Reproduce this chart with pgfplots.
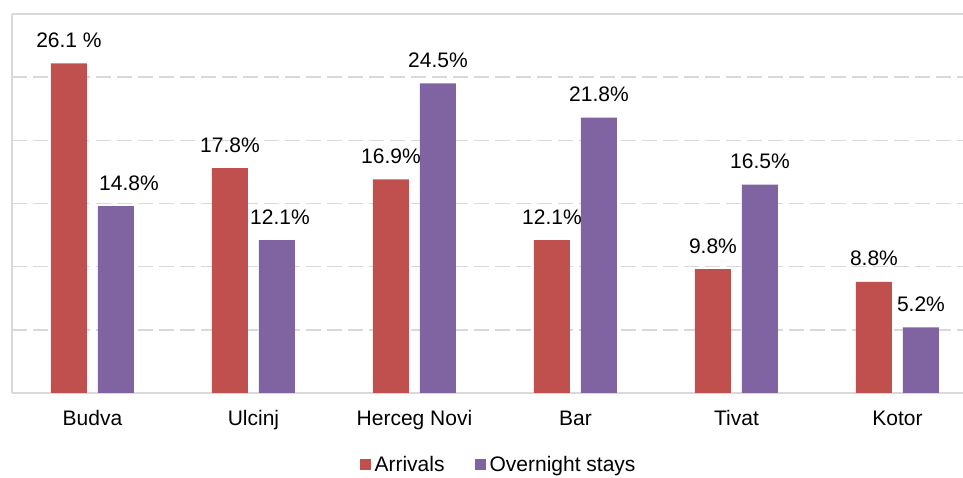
\documentclass[border=0pt]{standalone}
\usepackage{pgfplots}
\pgfplotsset{compat=1.18}
\usepackage{fontspec}
\setmainfont{Liberation Sans}
\definecolor{arr}{HTML}{C0504D}
\definecolor{ovn}{HTML}{8064A2}
\definecolor{gridg}{HTML}{D9D9D9}
\newcommand{\bigf}{\fontsize{21}{25}\selectfont}
\begin{document}
\begin{tikzpicture}
\begin{axis}[
  at={(0,0)}, anchor=south west,
  scale only axis,
  width=951pt, height=379pt,
  xmin=-0.5, xmax=5.407,
  ymin=0, ymax=30,
  ybar=11pt, bar width=36pt,
  axis lines*=left,
  axis line style={draw=gridg, line width=1.6pt},
  xtick={0,1,2,3,4,5},
  xticklabels={Budva,Ulcinj,Herceg Novi,Bar,Tivat,Kotor},
  ytick={5,10,15,20,25},
  yticklabels={},
  major tick length=0pt,
  ymajorgrids,
  major grid style={draw=gridg, line width=1.6pt, dash pattern=on 15pt off 6pt},
  extra y ticks={30},
  extra y tick labels={},
  extra y tick style={grid=major, major grid style={draw=gridg, line width=1.6pt, solid}},
  xticklabel style={font=\bigf, anchor=base, yshift=-33pt},
  nodes near coords,
  point meta=explicit symbolic,
  every node near coord/.append style={font=\bigf, anchor=base, yshift=16pt, inner sep=0pt, text=black},
  legend style={draw=none, font=\bigf, legend columns=2, at={(0.5116,-0.188)}, anchor=center,
    /tikz/every even column/.append style={column sep=28pt}},
  legend image code/.code={\fill[#1] (0pt,-5.5pt) rectangle (11pt,5.5pt); \path (13pt,0pt);},
]
\addplot[fill=arr, draw=none] coordinates {
  (0,26.1) [26.1 \%]
  (1,17.8) [17.8\%\hspace{11pt}]
  (2,16.9) [16.9\%]
  (3,12.1) [12.1\%]
  (4,9.8) [9.8\%]
  (5,8.8) [8.8\%]
};
\addplot[fill=ovn, draw=none] coordinates {
  (0,14.8) [\hspace{26pt}14.8\%]
  (1,12.1) [\hspace{6pt}12.1\%]
  (2,24.5) [24.5\%]
  (3,21.8) [21.8\%]
  (4,16.5) [16.5\%]
  (5,5.2) [5.2\%]
};
\legend{Arrivals,Overnight stays}
\end{axis}
\pgfresetboundingbox
\useasboundingbox (-12pt,-85pt) rectangle (951pt,393pt);
\end{tikzpicture}
\end{document}
